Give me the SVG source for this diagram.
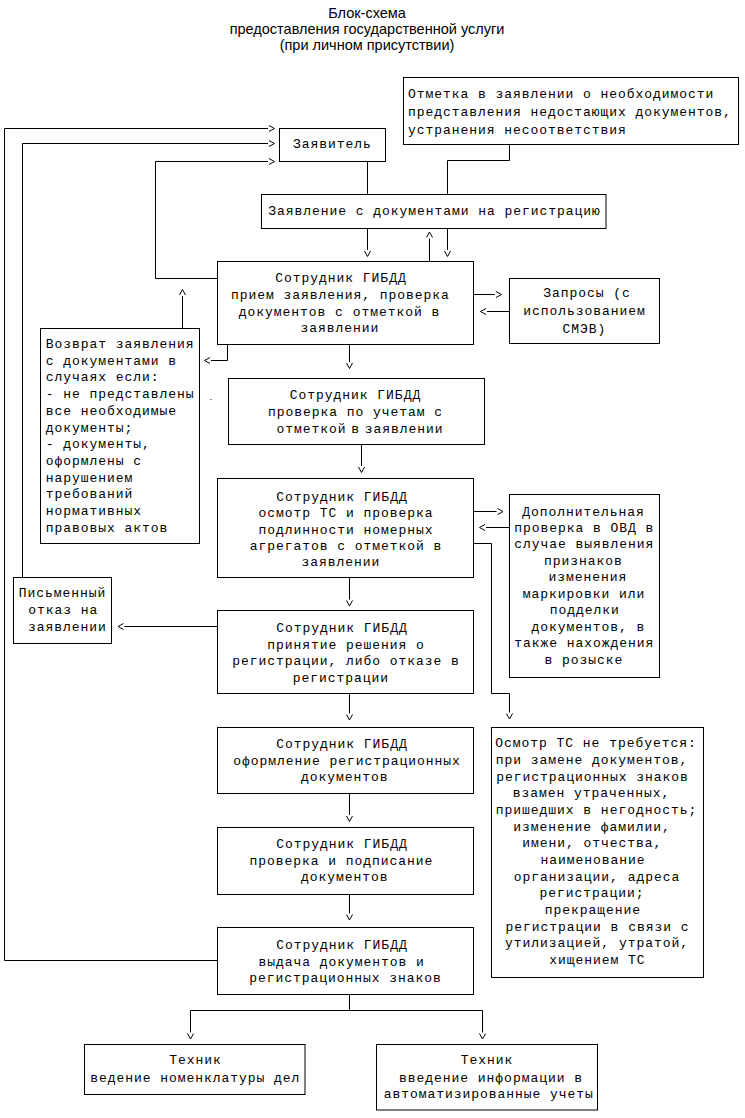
<svg xmlns="http://www.w3.org/2000/svg" width="745" height="1118" viewBox="0 0 745 1118">
<style>
.bg{fill:#fff}
.b{fill:#fff;stroke:#000;stroke-width:1}
.ln{fill:none;stroke:#000;stroke-width:1}
.t{font-family:"Liberation Mono","Courier New",monospace;font-size:13px;letter-spacing:0.95px;fill:#000}
.c{text-anchor:middle}
.ttl{font-family:"Liberation Sans",Arial,sans-serif;font-size:14.5px;fill:#000;text-anchor:middle}
</style>
<defs>
<marker id="ah" markerUnits="userSpaceOnUse" markerWidth="10" markerHeight="8" viewBox="-2 -4 10 8" refX="-1" refY="0" orient="auto" style="overflow:visible">
<path d="M0,-3 L5.5,0 L0,3" fill="none" stroke="#000" stroke-width="1"/>
</marker>
</defs>
<rect class="bg" x="0" y="0" width="745" height="1118"/>

<g id="title">
<text class="ttl" x="367" y="17.5">Блок-схема</text>
<text class="ttl" x="367" y="33.5">предоставления государственной услуги</text>
<text class="ttl" x="367" y="49.5">(при личном присутствии)</text>
</g>

<g id="connectors">
<path class="ln" d="M217.5,960.5 H4.5 V128.5 H268" marker-end="url(#ah)"/>
<path class="ln" d="M22.5,577.5 V143.5 H268" marker-end="url(#ah)"/>
<path class="ln" d="M217.5,278.5 H155.5 V161.5 H268" marker-end="url(#ah)"/>
<path class="ln" d="M367.5,161.5 V194.5"/>
<path class="ln" d="M509.5,144.5 V160.5 H447.5 V194.5"/>
<path class="ln" d="M367.5,228.5 V250" marker-end="url(#ah)"/>
<path class="ln" d="M429.5,261.5 V238.5" marker-end="url(#ah)"/>
<path class="ln" d="M447.5,228.5 V250" marker-end="url(#ah)"/>
<path class="ln" d="M473.5,294.5 H495" marker-end="url(#ah)"/>
<path class="ln" d="M509.5,311.5 H487" marker-end="url(#ah)"/>
<path class="ln" d="M182.5,328.5 V296" marker-end="url(#ah)"/>
<path class="ln" d="M227.5,344.5 V360.5 H211" marker-end="url(#ah)"/>
<path class="ln" d="M349.5,344.5 V362" marker-end="url(#ah)"/>
<path class="ln" d="M361.5,444.5 V466" marker-end="url(#ah)"/>
<path class="ln" d="M473.5,511.5 H496.5" marker-end="url(#ah)"/>
<path class="ln" d="M509.5,527.5 H486" marker-end="url(#ah)"/>
<path class="ln" d="M473.5,543.5 H491.5 V693.5 H509.5 V712.5" marker-end="url(#ah)"/>
<path class="ln" d="M349.5,577.5 V599.5" marker-end="url(#ah)"/>
<path class="ln" d="M217.5,626.5 H124.5" marker-end="url(#ah)"/>
<path class="ln" d="M349.5,693.5 V713.5" marker-end="url(#ah)"/>
<path class="ln" d="M349.5,793.5 V815" marker-end="url(#ah)"/>
<path class="ln" d="M349.5,894.5 V913.5" marker-end="url(#ah)"/>
<path class="ln" d="M349.5,994.5 V1010.5"/>
<path class="ln" d="M190.5,1010.5 H482.5"/>
<path class="ln" d="M190.5,1010.5 V1032.5" marker-end="url(#ah)"/>
<path class="ln" d="M482.5,1010.5 V1032.5" marker-end="url(#ah)"/>
</g>

<g id="n-otmetka">
<rect class="b" x="403.5" y="77.5" width="335" height="67"/>
<text class="t" x="408" y="98">Отметка в заявлении о необходимости</text>
<text class="t" x="408" y="116">представления недостающих документов,</text>
<text class="t" x="408" y="134">устранения несоответствия</text>
</g>

<g id="n-zayavitel">
<rect class="b" x="279.5" y="128.5" width="106" height="33"/>
<text class="t c" x="332.5" y="148">Заявитель</text>
</g>

<g id="n-zayavlenie">
<rect class="b" x="261.5" y="194.5" width="344.5" height="34"/>
<text class="t c" x="434.5" y="215">Заявление с документами на регистрацию</text>
</g>

<g id="n-priem">
<rect class="b" x="217.5" y="261.5" width="256" height="83"/>
<text class="t c" x="341" y="282">Сотрудник ГИБДД</text>
<text class="t c" x="340.5" y="298.5">прием заявления, проверка</text>
<text class="t c" x="339.5" y="315.5">документов с отметкой в</text>
<text class="t c" x="340" y="331.5">заявлении</text>
</g>

<g id="n-zaprosy">
<rect class="b" x="509.5" y="278.5" width="150" height="65"/>
<text class="t c" x="587" y="297">Запросы (с</text>
<text class="t c" x="584.5" y="315">использованием</text>
<text class="t c" x="584.5" y="333">СМЭВ)</text>
</g>

<g id="n-vozvrat">
<rect class="b" x="40.5" y="328.5" width="159" height="215"/>
<text class="t" x="45.7" y="348">Возврат заявления</text>
<text class="t" x="45.7" y="364.7">с документами в</text>
<text class="t" x="45.7" y="381.4">случаях если:</text>
<text class="t" x="45.7" y="398.1">- не представлены</text>
<text class="t" x="45.7" y="414.8">все необходимые</text>
<text class="t" x="45.7" y="431.5">документы;</text>
<text class="t" x="45.7" y="448.2">- документы,</text>
<text class="t" x="45.7" y="464.9">оформлены с</text>
<text class="t" x="45.7" y="481.6">нарушением</text>
<text class="t" x="45.7" y="498.3">требований</text>
<text class="t" x="45.7" y="515">нормативных</text>
<text class="t" x="45.7" y="531.7">правовых актов</text>
</g>

<text class="t" x="208.5" y="399.5" style="font-size:8px">.</text>

<g id="n-proverka-uchet">
<rect class="b" x="228.5" y="378.5" width="256" height="66"/>
<text class="t c" x="355.5" y="399">Сотрудник ГИБДД</text>
<text class="t c" x="355.5" y="416">проверка по учетам с</text>
<text class="t c" x="360" y="433" word-spacing="-4">отметкой в заявлении</text>
</g>

<g id="n-osmotr">
<rect class="b" x="217.5" y="478.5" width="256" height="99"/>
<text class="t c" x="342" y="500.5">Сотрудник ГИБДД</text>
<text class="t c" x="346" y="517">осмотр ТС и проверка</text>
<text class="t c" x="346" y="533.5">подлинности номерных</text>
<text class="t c" x="346" y="550">агрегатов с отметкой в</text>
<text class="t c" x="341" y="566">заявлении</text>
</g>

<g id="n-dop">
<rect class="b" x="509.5" y="494.5" width="150" height="183"/>
<text class="t c" x="583.5" y="515.5">Дополнительная</text>
<text class="t c" x="584.3" y="532">проверка в ОВД в</text>
<text class="t c" x="584.3" y="548.4">случае выявления</text>
<text class="t c" x="583.5" y="564.9">признаков</text>
<text class="t c" x="588" y="581.3">изменения</text>
<text class="t c" x="584" y="597.8">маркировки или</text>
<text class="t c" x="584.7" y="614.2">подделки</text>
<text class="t c" x="588.3" y="630.7">документов, в</text>
<text class="t c" x="584.3" y="647.1">также нахождения</text>
<text class="t c" x="584" y="663.6">в розыске</text>
</g>

<g id="n-otkaz">
<rect class="b" x="13.5" y="577.5" width="98" height="66"/>
<text class="t c" x="62.5" y="597">Письменный</text>
<text class="t c" x="63.3" y="614">отказ на</text>
<text class="t c" x="67.5" y="631">заявлении</text>
</g>

<g id="n-reshenie">
<rect class="b" x="217.5" y="610.5" width="256" height="83"/>
<text class="t c" x="342" y="631.5">Сотрудник ГИБДД</text>
<text class="t c" x="346" y="648.5">принятие решения о</text>
<text class="t c" x="346" y="665">регистрации, либо отказе в</text>
<text class="t c" x="341" y="681.5">регистрации</text>
</g>

<g id="n-ne-treb">
<rect class="b" x="491.5" y="727.5" width="212" height="250"/>
<text class="t c" x="596" y="747.3">Осмотр ТС не требуется:</text>
<text class="t c" x="592" y="764">при замене документов,</text>
<text class="t c" x="592.5" y="780.6">регистрационных знаков</text>
<text class="t c" x="591.5" y="797.3">взамен утраченных,</text>
<text class="t c" x="596.5" y="814">пришедших в негодность;</text>
<text class="t c" x="592" y="830.6">изменение фамилии,</text>
<text class="t c" x="592.2" y="847.3">имени, отчества,</text>
<text class="t c" x="593" y="864">наименование</text>
<text class="t c" x="597" y="880.6">организации, адреса</text>
<text class="t c" x="592" y="897.3">регистрации;</text>
<text class="t c" x="592.8" y="914">прекращение</text>
<text class="t c" x="597.5" y="930.6">регистрации в связи с</text>
<text class="t c" x="597" y="947.3">утилизацией, утратой,</text>
<text class="t c" x="597.5" y="964">хищением ТС</text>
</g>

<g id="n-oformlenie">
<rect class="b" x="217.5" y="727.5" width="256" height="66"/>
<text class="t c" x="342" y="748">Сотрудник ГИБДД</text>
<text class="t c" x="347" y="764.5">оформление регистрационных</text>
<text class="t c" x="344.7" y="781">документов</text>
</g>

<g id="n-podpisanie">
<rect class="b" x="217.5" y="827.5" width="256" height="67"/>
<text class="t c" x="342" y="848">Сотрудник ГИБДД</text>
<text class="t c" x="341.3" y="864.5">проверка и подписание</text>
<text class="t c" x="344.7" y="881">документов</text>
</g>

<g id="n-vydacha">
<rect class="b" x="217.5" y="927.5" width="256" height="67"/>
<text class="t c" x="342" y="949">Сотрудник ГИБДД</text>
<text class="t c" x="341.7" y="965.5">выдача документов и</text>
<text class="t c" x="345.5" y="982">регистрационных знаков</text>
</g>

<g id="n-tech1">
<rect class="b" x="84.5" y="1044.5" width="220.5" height="50"/>
<text class="t c" x="195.6" y="1064">Техник</text>
<text class="t c" x="195.3" y="1081.5">ведение номенклатуры дел</text>
</g>

<g id="n-tech2">
<rect class="b" x="376.5" y="1044.5" width="221" height="65.5"/>
<text class="t c" x="487" y="1064">Техник</text>
<text class="t c" x="491" y="1081.5">введение информации в</text>
<text class="t c" x="488.8" y="1098">автоматизированные учеты</text>
</g>
</svg>
